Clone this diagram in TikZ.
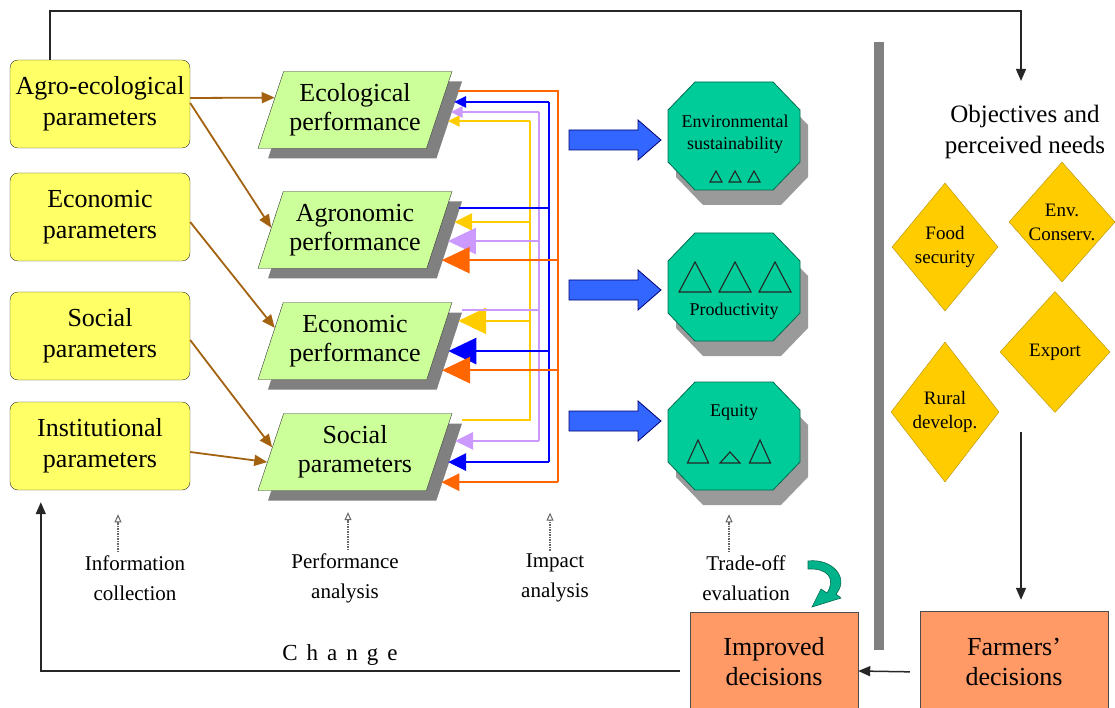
\documentclass[tikz,border=0pt]{standalone}
\usepackage{fontspec}
\IfFontExistsTF{LiberationSerif-Regular.ttf}
  {\newfontfamily\tnr{LiberationSerif-Regular.ttf}}
  {\newfontfamily\tnr[Scale=0.9]{Latin Modern Roman}}
\usetikzlibrary{shapes.geometric,arrows.meta,calc,shadows}

\definecolor{parY}{HTML}{FFFF66}
\definecolor{perfG}{HTML}{CCFF99}
\definecolor{octG}{HTML}{00CC99}
\definecolor{octEdge}{HTML}{006B4F}
\definecolor{diaY}{HTML}{FFCC00}
\definecolor{diaEdge}{HTML}{B38F00}
\definecolor{decO}{HTML}{FF9966}
\definecolor{brn}{HTML}{A3620F}
\definecolor{fbO}{HTML}{FF6600}
\definecolor{fbB}{HTML}{0000FF}
\definecolor{fbL}{HTML}{CC99FF}
\definecolor{fbY}{HTML}{FFCC00}
\definecolor{blkB}{HTML}{3366FF}
\definecolor{shd}{HTML}{808080}
\definecolor{tealA}{HTML}{00B38A}

% small outlined triangle: centre x, base y, width, height
\newcommand\octtri[4]{\draw[tri] (#1-#3/2,#2) -- (#1,#2-#4) -- (#1+#3/2,#2) -- cycle;}
% octagon outline around a centre, with its offset shadow
\newcommand\octpath{(-39,-54) -- (39,-54) -- (66,-26) -- (66,26) -- (39,54) -- (-39,54) -- (-66,26) -- (-66,-26) -- cycle}
\newcommand\impactoct[1]{%
  \fill[shd!80, shift={#1}, shift={(8,15)}] \octpath;
  \filldraw[fill=octG, draw=octEdge, line width=0.8pt, shift={#1}] \octpath;}

\begin{document}
\begin{tikzpicture}[x=1pt,y=-1pt,
  every node/.style={font=\tnr},
  param/.style={draw=black!80, fill=parY, rounded corners=8pt, minimum width=180pt,
    minimum height=88pt, align=center, inner sep=0, font=\tnr\fontsize{26}{31}\selectfont},
  perf/.style={trapezium, trapezium left angle=64, trapezium right angle=116,
    trapezium stretches body, minimum width=194pt, minimum height=77pt, inner sep=0,
    draw=black!80, fill=perfG, align=center, font=\tnr\fontsize{26}{29}\selectfont,
    drop shadow={shadow xshift=10pt, shadow yshift=-10pt, fill=shd, opacity=1}},
  octxt/.style={align=center, inner sep=0, font=\tnr\fontsize{18}{22}\selectfont},
  tri/.style={draw=black!85, line width=1.1pt},
  dia/.style={diamond, draw=diaEdge, fill=diaY, inner sep=0, align=center,
    font=\tnr\fontsize{19}{24}\selectfont},
  dec/.style={draw=black!70, fill=decO, align=center, inner sep=0,
    font=\tnr\fontsize{26}{30}\selectfont},
  lab/.style={align=center, inner sep=0, font=\tnr\fontsize{21}{30}\selectfont},
  brown/.style={draw=brn, line width=1.8pt, -{Triangle[length=13pt,width=11pt]}},
  fb/.style={line width=2.6pt},
  tipS/.tip={Triangle[length=12pt,width=11pt]},
  tipM/.tip={Triangle[length=18pt,width=17pt]},
  tipL/.tip={Triangle[length=28pt,width=26pt]},
  blk/.style={draw=blue!45!black, fill=blkB, line width=0.8pt},
  flow/.style={draw=black!85, line width=1.5pt, -{Triangle[length=12pt,width=10pt]}},
  dotarr/.style={draw=black!60, densely dotted, line width=1.5pt,
    -{Triangle[open,length=8pt,width=7pt,line width=1pt]}}]

\useasboundingbox (0,0) rectangle (1115,708);
\clip (0,0) rectangle (1115,708);

% parameter boxes
\node[param] (agp) at (100,104) {Agro-ecological\\parameters};
\node[param] (ecp) at (100,217) {Economic\\parameters};
\node[param] (sop) at (100,336) {Social\\parameters};
\node[param] (inp) at (100,446) {Institutional\\parameters};

% performance parallelograms
\node[perf] (ecol) at (355,110) {Ecological\\performance};
\node[perf] (agro) at (355,230) {Agronomic\\performance};
\node[perf] (econ) at (355,341) {Economic\\performance};
\node[perf] (soc)  at (355,452) {Social\\parameters};

% parameters feed performance
\draw[brown] ($(agp.east)+(0,-6)$) -- ($(ecol.top left corner)!0.34!(ecol.bottom left corner)$);
\draw[brown] ($(agp.east)+(0,-1)$) -- ($(agro.top left corner)!0.47!(agro.bottom left corner)$);
\draw[brown] ($(ecp.east)+(0,5)$) -- ($(econ.top left corner)!0.33!(econ.bottom left corner)$);
\draw[brown] ($(sop.east)+(0,4)$) -- ($(soc.top left corner)!0.44!(soc.bottom left corner)$);
\draw[brown] ($(inp.east)+(0,6)$) -- ($(soc.top left corner)!0.63!(soc.bottom left corner)$);

% feedback buses
\coordinate (busY) at (530,0);
\coordinate (busL) at (539,0);
\coordinate (busB) at (549,0);
\coordinate (busO) at (558,0);

\path ($(ecol.top right corner)!0.253!(ecol.bottom right corner)+(12,0)$) coordinate (o1)
      ($(agro.top right corner)!0.890!(agro.bottom right corner)+(12,0)$) coordinate (o2)
      ($(econ.top right corner)!0.877!(econ.bottom right corner)+(12,0)$) coordinate (o3)
      ($(soc.top right corner)!0.890!(soc.bottom right corner)+(12,0)$) coordinate (o4);
\path ($(ecol.top right corner)!0.396!(ecol.bottom right corner)+(12,0)$) coordinate (b1)
      ($(agro.top right corner)!0.214!(agro.bottom right corner)+(12,0)$) coordinate (b2)
      ($(econ.top right corner)!0.630!(econ.bottom right corner)+(12,0)$) coordinate (b3)
      ($(soc.top right corner)!0.630!(soc.bottom right corner)+(12,0)$) coordinate (b4);
\path ($(ecol.top right corner)!0.526!(ecol.bottom right corner)+(12,0)$) coordinate (l1)
      ($(agro.top right corner)!0.643!(agro.bottom right corner)+(12,0)$) coordinate (l2)
      ($(econ.top right corner)!0.097!(econ.bottom right corner)+(12,0)$) coordinate (l3)
      ($(soc.top right corner)!0.357!(soc.bottom right corner)+(12,0)$) coordinate (l4);
\path ($(ecol.top right corner)!0.643!(ecol.bottom right corner)+(12,0)$) coordinate (y1)
      ($(agro.top right corner)!0.396!(agro.bottom right corner)+(12,0)$) coordinate (y2)
      ($(econ.top right corner)!0.240!(econ.bottom right corner)+(12,0)$) coordinate (y3)
      ($(soc.top right corner)!0.084!(soc.bottom right corner)+(12,0)$) coordinate (y4);

% yellow: from social
\draw[fb, fbY] (y4) -- (y4 -| busY) -- (y1 -| busY);
\draw[fb, fbY, -{tipS}] (y1 -| busY) -- (y1);
\draw[fb, fbY, -{tipM}] (y2 -| busY) -- (y2);
\draw[fb, fbY, -{tipL}] (y3 -| busY) -- (y3);
% lavender: from economic
\draw[fb, fbL] (l3) -- (l3 -| busL);
\draw[fb, fbL] (l1 -| busL) -- (l4 -| busL);
\draw[fb, fbL, -{tipS}] (l1 -| busL) -- (l1);
\draw[fb, fbL, -{tipL}] (l2 -| busL) -- (l2);
\draw[fb, fbL, -{tipM}] (l4 -| busL) -- (l4);
% blue: from agronomic
\draw[fb, fbB] (b2) -- (b2 -| busB);
\draw[fb, fbB] (b1 -| busB) -- (b4 -| busB);
\draw[fb, fbB, -{tipS}] (b1 -| busB) -- (b1);
\draw[fb, fbB, -{tipL}] (b3 -| busB) -- (b3);
\draw[fb, fbB, -{tipM}] (b4 -| busB) -- (b4);
% orange: from ecological
\draw[fb, fbO] (o1) -- (o1 -| busO) -- (o4 -| busO);
\draw[fb, fbO, -{tipL}] (o2 -| busO) -- (o2);
\draw[fb, fbO, -{tipL}] (o3 -| busO) -- (o3);
\draw[fb, fbO, -{tipM}] (o4 -| busO) -- (o4);

% impact octagons
\impactoct{(734,136)}
\impactoct{(734,287)}
\impactoct{(734,436)}
\node[octxt] (envt) at (735,134) {Environmental\\sustainability};
\node[octxt] (prodt) at (734,311) {Productivity};
\node[octxt] (eqtyt) at (734,412) {Equity};
\octtri{716}{182}{12}{11}\octtri{735}{182}{12}{11}\octtri{754}{182}{12}{11}
\octtri{695}{292}{32}{30}\octtri{735}{292}{32}{30}\octtri{775}{292}{32}{30}
\octtri{698}{463}{21}{23}\octtri{730}{463}{20}{11}\octtri{760}{463}{21}{23}

% block arrows into the octagons
\draw[blk, shift={(569,140)}] (0,-10) -- (69,-10) -- (69,-20) -- (92,0) -- (69,20) -- (69,10) -- (0,10) -- cycle;
\draw[blk, shift={(569,290)}] (0,-10) -- (69,-10) -- (69,-20) -- (92,0) -- (69,20) -- (69,10) -- (0,10) -- cycle;
\draw[blk, shift={(569,421)}] (0,-10) -- (69,-10) -- (69,-20) -- (92,0) -- (69,20) -- (69,10) -- (0,10) -- cycle;

% separator
\fill[shd] (874,42) rectangle (884,650);

% objectives
\node[inner sep=0, align=center, font=\tnr\fontsize{25}{31}\selectfont] (obj) at (1025,132)
  {Objectives and\\perceived needs};
\coordinate (objin) at ($(obj.north)+(-4,-24)$);
\node[dia, minimum width=106pt, minimum height=128pt] (food) at (945,247) {Food\\security};
\node[dia, minimum width=106pt, minimum height=120pt] (envc) at (1062,222) {Env.\\Conserv.};
\node[dia, minimum width=110pt, minimum height=121pt] (expo) at (1055,352) {Export};
\node[dia, minimum width=108pt, minimum height=140pt] (rur) at (945,412) {Rural\\develop.};

% decisions
\node[dec, minimum width=168pt, minimum height=100pt] (impr) at (774,662) {Improved\\decisions};
\node[dec, minimum width=188pt, minimum height=102pt] (farm) at (1014,662) {Farmers’\\decisions};

% loop connectors
\draw[flow] ($(agp.north west)+(40,0)$) -- ++(0,-49) -| (objin);
\coordinate (farmin) at (1021,432);
\draw[flow, shorten >=11pt] (farmin) -- (farmin |- farm.north);
\draw[flow, shorten <=10pt] ($(farm.west)+(0,10)$) -- ($(impr.east)+(0,9)$);
\draw[flow] ($(impr.west)+(-10,9)$) -| ($(inp.south west)+(31,12)$);
\node[inner sep=0, font=\tnr\fontsize{23}{23}\selectfont] (chg) at (340,655)
  {C\hspace{9pt}h\hspace{9pt}a\hspace{9pt}n\hspace{9pt}g\hspace{9pt}e};

% stage labels
\node[lab] (info) at (135,578) {Information\\collection};
\node[lab] (perfan) at (345,578) {Performance\\analysis};
\node[lab] (impan) at (555,578) {Impact\\analysis};
\node[lab] (trade) at (746,578) {Trade-off\\evaluation};
\draw[dotarr] ($(info.north)+(-17,-3)$) -- ++(0,-38);
\draw[dotarr] ($(perfan.north)+(3,-3)$) -- ++(0,-38);
\draw[dotarr] ($(impan.north)+(-5,-3)$) -- ++(0,-38);
\draw[dotarr] ($(trade.north)+(-17,-3)$) -- ++(0,-38);

% curved arrow from evaluation to decisions
\filldraw[fill=tealA, draw=octEdge, line width=0.6pt]
  (808,561) .. controls (832,558) and (850,578) .. (836,594) -- (841,598) -- (812,607)
  -- (821,589) -- (827,593) .. controls (836,579) and (828,568) .. (808,569) -- cycle;
\end{tikzpicture}
\end{document}
